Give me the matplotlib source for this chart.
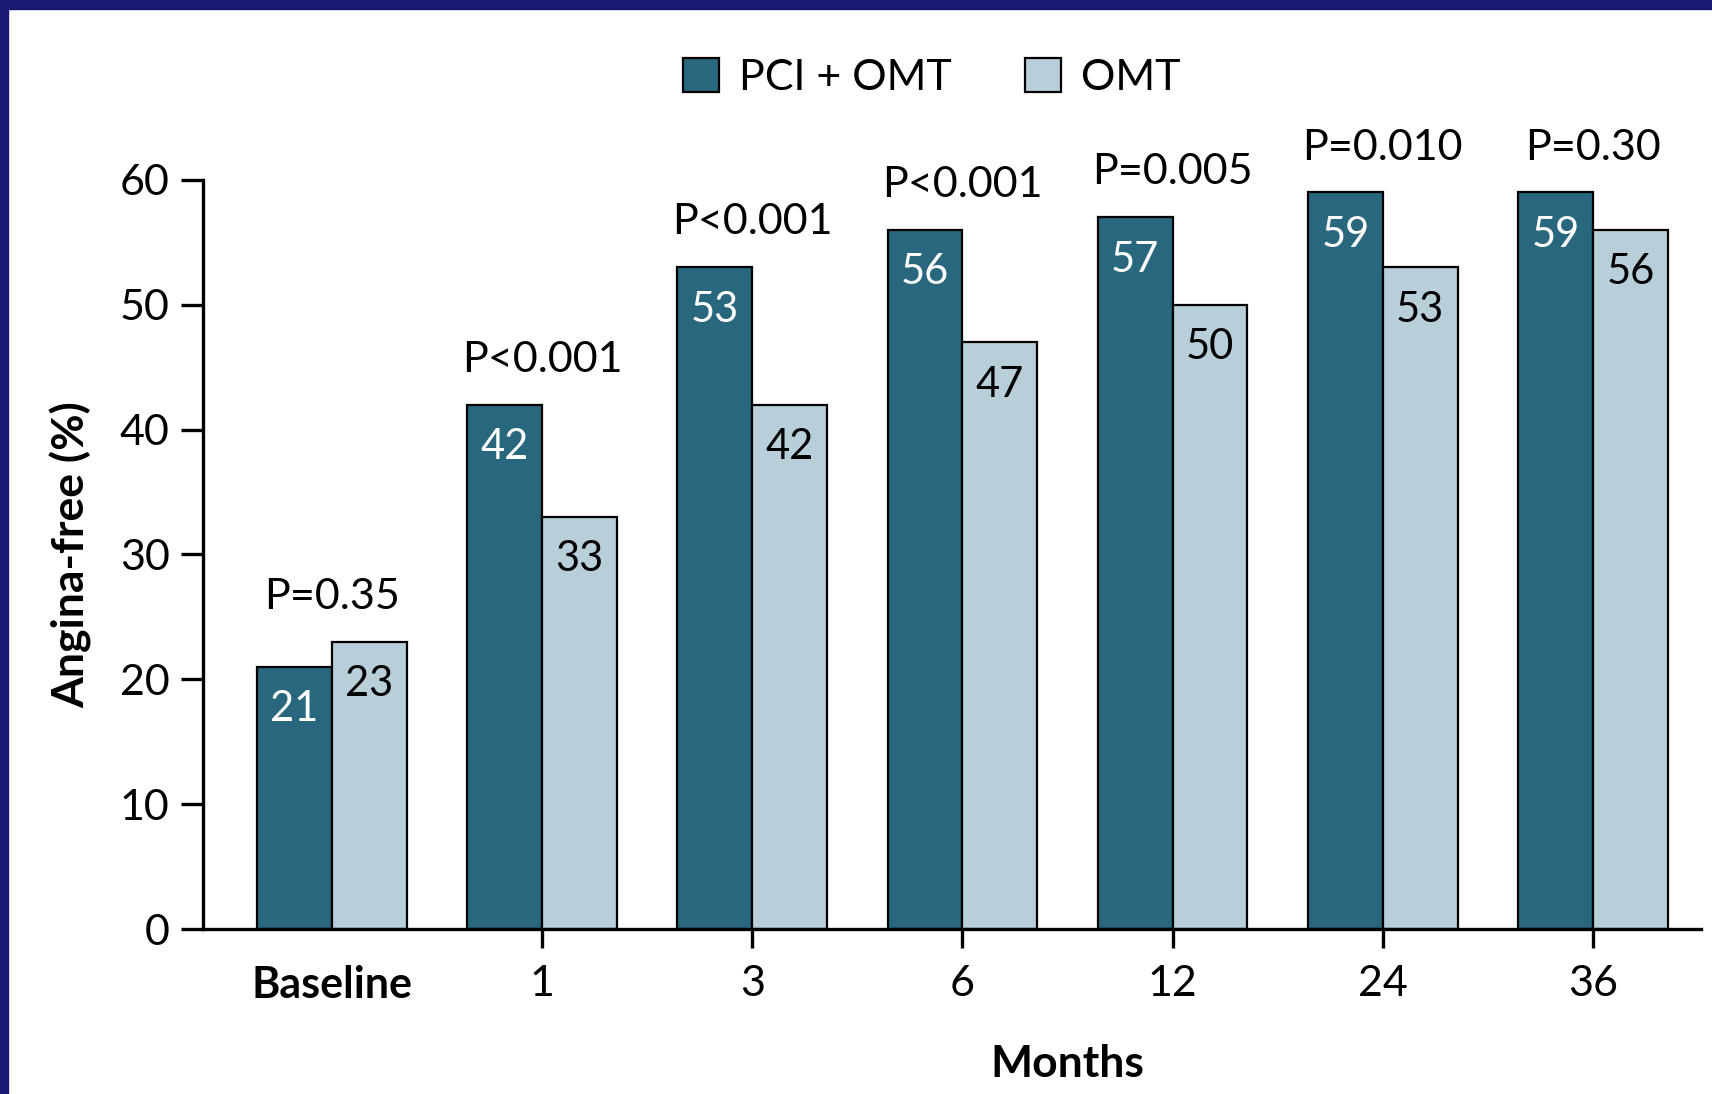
import numpy as np
import matplotlib.pyplot as plt
from matplotlib.patches import Rectangle

months = ["Baseline", "1", "3", "6", "12", "24", "36"]
pci_omt = [21, 42, 53, 56, 57, 59, 59]
omt = [23, 33, 42, 47, 50, 53, 56]
p_values = ["P=0.35", "P<0.001", "P<0.001", "P<0.001", "P=0.005", "P=0.010", "P=0.30"]

dark = "#28677d"
light = "#b8ced8"
navy = "#1a1872"

plt.rcParams["font.family"] = ["Lato", "DejaVu Sans"]

fig = plt.figure(figsize=(17.12, 10.94), dpi=100)
ax = fig.add_axes([0.1186, 0.1508, 0.875, 0.6847])

x = np.arange(len(months))
w = 0.356
ax.bar(x - w / 2, pci_omt, w, color=dark, edgecolor="black", linewidth=1.6,
       label="PCI + OMT", zorder=2)
ax.bar(x + w / 2, omt, w, color=light, edgecolor="black", linewidth=1.6,
       label="OMT", zorder=2)

fs = 31
for i in range(len(months)):
    ax.text(x[i] - w / 2, pci_omt[i] - 3.4, str(pci_omt[i]), ha="center",
            va="center", color="white", fontsize=fs - 1)
    ax.text(x[i] + w / 2, omt[i] - 3.4, str(omt[i]), ha="center",
            va="center", color="black", fontsize=fs - 1)
    top = max(pci_omt[i], omt[i])
    ax.text(x[i], top + 3.6, p_values[i], ha="center", va="center",
            fontsize=fs)

ax.set_xlim(-0.613, 6.514)
ax.set_ylim(0, 60)
ax.set_yticks(np.arange(0, 61, 10))
ax.set_xticks(x)
ax.set_xticklabels(months)
ax.get_xticklabels()[0].set_fontweight("bold")
ax.xaxis.get_major_ticks()[0].tick1line.set_visible(False)

for s in ["top", "right"]:
    ax.spines[s].set_visible(False)
ax.spines["left"].set_linewidth(2.4)
ax.spines["bottom"].set_linewidth(2.4)
ax.tick_params(axis="both", length=16, width=2.4, labelsize=fs, pad=8)
ax.tick_params(axis="x", length=14, pad=12)

ax.set_ylabel("Angina-free (%)", fontsize=fs + 1, fontweight="bold", labelpad=20)
ax.text(3.5, -0.18, "Months", transform=ax.get_xaxis_transform(), ha="center",
        va="center", fontsize=fs + 1, fontweight="bold")

ax.legend(loc="center", bbox_to_anchor=(0.544, 0.929), bbox_transform=fig.transFigure,
          ncol=2, frameon=False, fontsize=fs, handlelength=0.85, handleheight=0.85,
          columnspacing=1.7, handletextpad=0.45)

# navy frame on top and left
fig.patches.append(Rectangle((0, 1 - 9 / 1094), 1, 9 / 1094, transform=fig.transFigure,
                             color=navy, zorder=10))
fig.patches.append(Rectangle((0, 0), 8 / 1712, 1, transform=fig.transFigure,
                             color=navy, zorder=10))

fig.savefig("out.png", dpi=100)
